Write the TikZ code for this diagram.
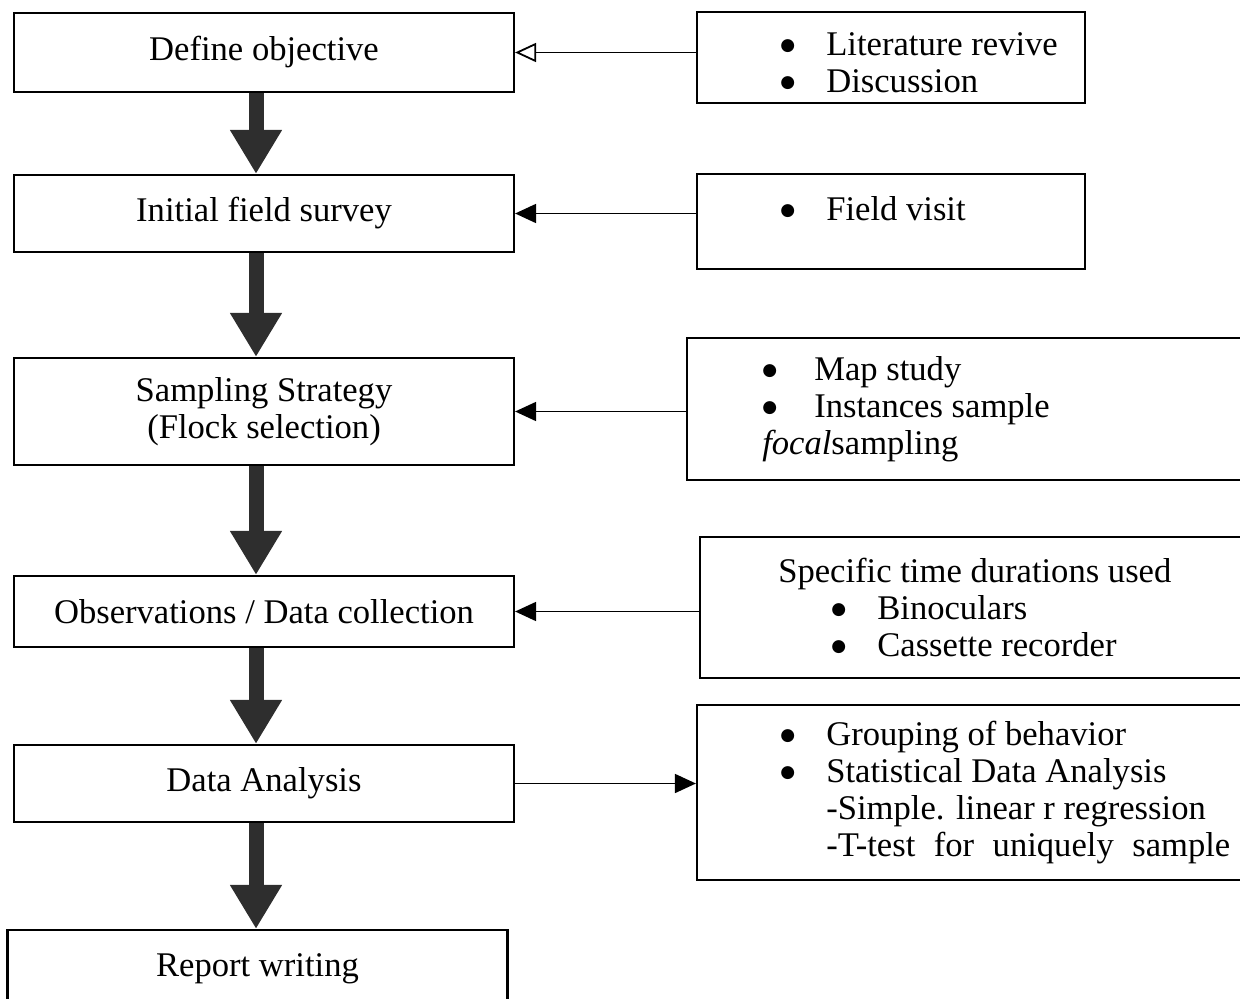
\documentclass[tikz,border=0pt]{standalone}
\usepackage{fontspec}
\setmainfont{Liberation Serif}
\newfontfamily\symfont{DejaVu Sans}
\usetikzlibrary{arrows.meta, positioning}

\newcommand{\itm}{\makebox[23pt][l]{\raisebox{2.6pt}{\symfont\fontsize{8.5}{8.5}\selectfont ●}}}

\begin{document}
\begin{tikzpicture}[
    x=0.5pt, y=-0.5pt,
    font=\fontsize{17.3}{18.5}\selectfont,
    stage/.style={draw, line width=1.1pt, minimum width=250pt, align=center},
    info/.style={draw, line width=1.1pt},
    list/.style={anchor=west, align=left, inner sep=0pt},
    flow/.style={line width=7.5pt, black!82, -{Triangle[length=22pt, width=24.5pt]}},
    link/.style={line width=0.9pt, -{Triangle[length=10.5pt, width=9.5pt]}}
]

\useasboundingbox (0,0) rectangle (1240,999);
\clip (0,0) rectangle (1240,999);

% steps on the left
\node[stage, minimum height=39.5pt] (obj) at (264,52.5) {Define objective};
\node[stage, minimum height=38.5pt] (survey) at (264,213.5) {Initial field survey};
\node[stage, minimum height=53.5pt] (sampling) at (264,411.5) {Sampling Strategy\\(Flock selection)};
\node[stage, minimum height=35.5pt] (observe) at (264,611.5) {Observations / Data collection};
\node[stage, minimum height=38.5pt] (analysis) at (264,783.5) {Data Analysis};
\node[stage, minimum height=38.5pt] (report) at (257.5,968.5) {Report writing};

% inputs on the right
\node[info, minimum width=194pt, minimum height=45.5pt] (lit) at (891,57.5) {};
\node[list] (litT) at ([shift={(42pt,-2.75pt)}]lit.west)
    {\itm Literature revive\\ \itm Discussion};

\node[info, minimum width=194pt, minimum height=47.5pt] (visit) at (891,221.5) {};
\node[list] (visitT) at ([shift={(42pt,6.25pt)}]visit.west) {\itm Field visit};

\node[info, minimum width=286.5pt, minimum height=71pt] (map) at (973.5,409) {};
\node[list] (mapT) at ([xshift=38pt]map.west)
    {\itm\hspace{3pt}Map study\\ \itm\hspace{3pt}Instances sample\\ \textit{focal}sampling};

\node[info, minimum width=280pt, minimum height=70.5pt] (tools) at (980,607.5) {};
\node[list] (toolsT) at ([xshift=39.5pt]tools.west)
    {Specific time durations used\\
     \hspace*{26.5pt}\itm Binoculars\\
     \hspace*{26.5pt}\itm Cassette recorder};

\node[info, minimum width=281.5pt, minimum height=87.5pt] (stats) at (978.5,792.5) {};
\node[list] (statsT) at ([xshift=42pt]stats.west)
    {\itm Grouping of behavior\\
     \itm Statistical Data Analysis\\
     \hspace*{23pt}-Simple. linear r regression\\
     \hspace*{23pt}\makebox[202pt][s]{-T-test for uniquely sample}};

% main flow
\draw[flow] ([xshift=-4pt]obj.south) -- ([xshift=-4pt]survey.north);
\draw[flow] ([xshift=-4pt]survey.south) -- ([xshift=-4pt]sampling.north);
\draw[flow] ([xshift=-4pt]sampling.south) -- ([xshift=-4pt]observe.north);
\draw[flow] ([xshift=-4pt]observe.south) -- ([xshift=-4pt]analysis.north);
\draw[flow] ([xshift=-4pt]analysis.south) -- ([xshift=-4pt]analysis.south |- report.north);

% side links
\draw[link, -{Triangle[open, length=10.5pt, width=9.5pt]}] (lit.west |- obj) -- (obj.east);
\draw[link] (visit.west |- survey) -- (survey.east);
\draw[link] (map.west |- sampling) -- (sampling.east);
\draw[link] (tools.west |- observe) -- (observe.east);
\draw[link] (analysis.east) -- (stats.west |- analysis);

\end{tikzpicture}
\end{document}
